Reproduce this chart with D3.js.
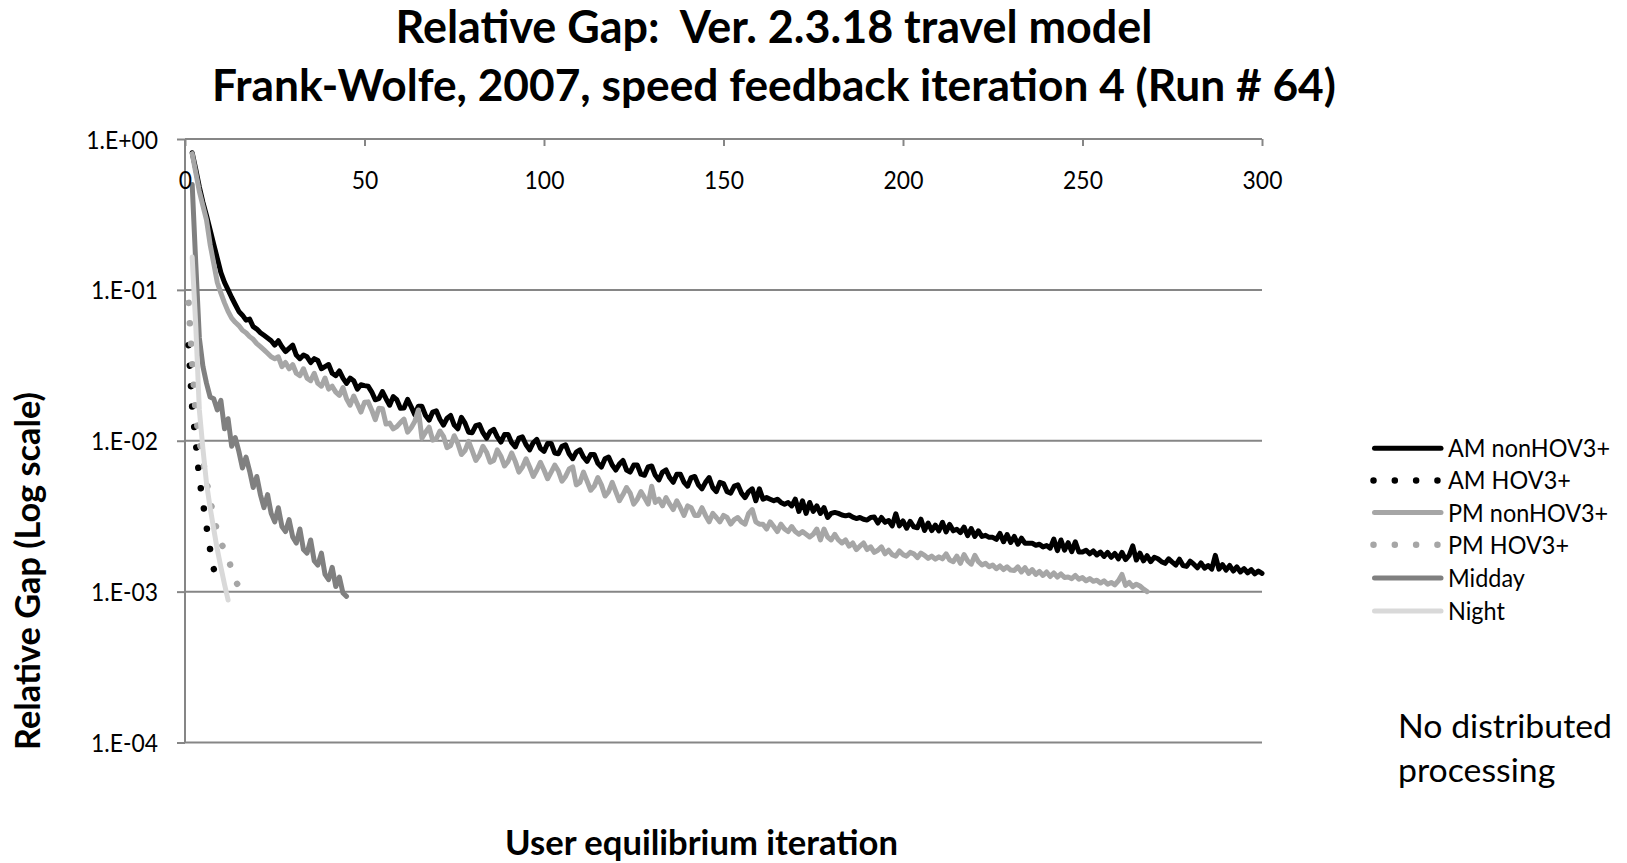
<!DOCTYPE html>
<html><head><meta charset="utf-8">
<script src="https://cdn.jsdelivr.net/npm/d3@7"></script>
<style>body{margin:0;background:#fff} svg{display:block}</style>
</head><body>
<svg id="c" width="1627" height="863"></svg>
<script>
// ---------------- DATA ----------------
const seriesNames = ["AM nonHOV3+","AM HOV3+","PM nonHOV3+","PM HOV3+","Midday","Night"];
const seriesStart = [2,1,2,1,2,2]; // first UE iteration of each series
const amNonHov = [
0.81,0.63,0.48,0.38,0.31,0.25,0.20,0.162,0.130,
0.112,0.100,0.089,0.080,0.072,0.068,0.063,0.064,0.057,0.055,
0.052,0.050,0.048,0.046,0.043,0.046,0.042,0.039,0.041,0.043,
0.037,0.035,0.037,0.036,0.033,0.035,0.034,0.030,0.031,0.032,
0.028,0.027,0.029,0.026,0.024,0.026,0.025,0.022,0.0235,0.0232,
0.0230,0.0211,0.0187,0.0190,0.0212,0.0190,0.0172,0.0196,0.0187,0.0164,
0.0165,0.0188,0.0168,0.0149,0.0169,0.0169,0.0147,0.0137,0.0155,0.0158,
0.0139,0.0127,0.0141,0.0147,0.0127,0.0120,0.0143,0.0131,0.0114,0.0113,
0.0126,0.0128,0.0113,0.0104,0.0115,0.0119,0.0106,0.0098,0.0110,0.0110,
0.0097,0.0091,0.0104,0.0106,0.0094,0.0087,0.0097,0.0102,0.0089,0.0085,
0.0096,0.0096,0.0083,0.0082,0.0092,0.0094,0.0082,0.0076,0.0084,0.0087,
0.0078,0.0073,0.0081,0.0081,0.0071,0.0067,0.0076,0.0078,0.0069,0.0064,
0.0070,0.0074,0.0064,0.0062,0.0069,0.0069,0.0060,0.0059,0.0067,0.0068,
0.0059,0.0055,0.0062,0.0064,0.0057,0.0053,0.0060,0.0060,0.0053,0.0050,
0.0057,0.0058,0.0051,0.0048,0.0053,0.0057,0.0049,0.0046,0.0053,0.0052,
0.0046,0.0045,0.0050,0.0051,0.0045,0.0042,0.0046,0.0048,0.0040,0.0048,
0.0041,0.0042,0.0041,0.0040,0.0041,0.0039,0.0038,0.0039,0.0037,0.0041,
0.0034,0.0040,0.0033,0.0039,0.0034,0.0037,0.0033,0.0036,0.0031,0.0033,
0.00335,0.0033,0.00322,0.00318,0.00322,0.00312,0.00305,0.0031,0.00302,0.00298,
0.0031,0.00312,0.00285,0.0031,0.00288,0.00296,0.00273,0.00328,0.00273,0.00294,
0.00263,0.00292,0.00269,0.00265,0.00302,0.00254,0.00285,0.00254,0.00276,0.00253,
0.00288,0.00249,0.00279,0.00253,0.00259,0.00246,0.00268,0.00235,0.00262,0.00232,
0.00253,0.00232,0.00236,0.00229,0.00229,0.00222,0.00243,0.00214,0.00239,0.00212,
0.00232,0.00206,0.00226,0.00209,0.00209,0.00209,0.00203,0.00206,0.00198,0.00202,
0.00194,0.00223,0.00187,0.0022,0.00188,0.00211,0.00184,0.00214,0.00183,0.00183,
0.00188,0.00178,0.00186,0.00175,0.00183,0.00171,0.00182,0.00169,0.00179,0.00165,
0.00182,0.00163,0.00174,0.00201,0.00162,0.0018,0.0016,0.00173,0.00158,0.00169,
0.00165,0.00158,0.00154,0.00165,0.00157,0.0015,0.00164,0.00149,0.00147,0.00159,
0.00152,0.00144,0.00155,0.00143,0.00149,0.00141,0.00174,0.00141,0.00151,0.00139,
0.00149,0.00137,0.00146,0.00135,0.00142,0.00133,0.0014,0.00131,0.00137,0.00132
];
const amHov = [0.043,0.0165,0.0098,0.0056,0.0039,0.0027,0.0019,0.00142,0.00108];
const pmNonHov = [
0.80,0.60,0.45,0.36,0.29,0.20,0.15,0.112,0.095,
0.082,0.072,0.065,0.061,0.058,0.054,0.052,0.049,0.047,0.044,
0.042,0.040,0.038,0.036,0.035,0.036,0.031,0.033,0.030,0.032,
0.028,0.027,0.030,0.026,0.025,0.028,0.024,0.023,0.026,0.022,
0.023,0.021,0.0200,0.0225,0.019,0.0172,0.0198,0.0175,0.0155,0.0180,
0.0181,0.0160,0.0138,0.0164,0.0163,0.0129,0.0131,0.0120,0.0124,0.0132,
0.0139,0.0114,0.0122,0.0134,0.0160,0.0104,0.0114,0.0123,0.0101,0.0103,
0.0116,0.0107,0.0090,0.0093,0.0108,0.0096,0.0081,0.0086,0.0099,0.0086,
0.0074,0.0080,0.0092,0.0084,0.0072,0.0074,0.0087,0.0079,0.0068,0.0073,
0.0083,0.0073,0.0062,0.0067,0.0076,0.0067,0.0058,0.0064,0.0072,0.0064,
0.0056,0.0062,0.0069,0.0063,0.0054,0.0058,0.0065,0.0067,0.0051,0.0053,
0.0062,0.0054,0.0047,0.0050,0.0057,0.0051,0.0043,0.0046,0.0053,0.0046,
0.0040,0.0044,0.0049,0.0045,0.0038,0.0041,0.0046,0.0042,0.0038,0.0050,
0.0039,0.0041,0.0037,0.0042,0.0038,0.0035,0.0040,0.0036,0.0032,0.0037,
0.0036,0.0032,0.0032,0.0036,0.0032,0.0029,0.0033,0.0031,0.0029,0.0032,
0.0031,0.0028,0.0030,0.0031,0.0029,0.0028,0.0033,0.0035,0.0029,0.0028,
0.0028,0.0026,0.0029,0.0027,0.0025,0.0028,0.0026,0.0025,0.0027,0.0025,
0.0024,0.0025,0.0024,0.0023,0.0024,0.0026,0.0022,0.0026,0.0023,0.0022,
0.0024,0.0022,0.0021,0.0022,0.0020,0.0021,0.0019,0.0020,0.0021,0.0019,
0.00198,0.00182,0.00188,0.00198,0.00178,0.00188,0.00176,0.00172,0.00186,0.00176,
0.00172,0.00182,0.00178,0.00168,0.00180,0.00174,0.00166,0.00172,0.00164,0.00170,
0.00165,0.00178,0.00162,0.00158,0.00172,0.00154,0.00176,0.00160,0.00152,0.00174,
0.00158,0.00150,0.00154,0.00146,0.00150,0.00142,0.00148,0.00140,0.00146,0.00139,
0.00138,0.00146,0.00135,0.00144,0.00132,0.00140,0.00130,0.00136,0.00128,0.00135,
0.00126,0.00133,0.00125,0.00131,0.00124,0.00125,0.00122,0.00128,0.00121,0.00124,
0.00118,0.00122,0.00117,0.00119,0.00114,0.00118,0.00112,0.00115,0.00111,0.00118,
0.00130,0.00110,0.00115,0.00108,0.00112,0.00109,0.00104,0.00100
];
const pmHov = [0.082,0.033,0.015,0.0100,0.0074,0.0054,0.0041,0.0031,0.0025,0.0021,0.0019,0.0017,0.00138,0.00118,0.00108,0.00101,0.00096];
const midday = [
0.50,0.15,0.048,0.031,0.024,0.0195,
0.0190,0.0160,0.0185,0.0120,0.0140,0.0092,0.0105,0.0085,0.0066,0.0078,
0.0063,0.0049,0.0058,0.0044,0.0036,0.0044,0.0033,0.0029,0.0036,0.0027,
0.0025,0.0030,0.0023,0.0021,0.0026,0.0019,0.0018,0.0022,0.0016,0.0015,
0.0018,0.0013,0.0012,0.00145,0.00108,0.00125,0.00098,0.00093
];
const night = [0.165,0.058,0.016,0.0088,0.0052,0.0036,0.0026,0.0019,0.00145,0.00112,0.00088];
const seriesValues = [amNonHov, amHov, pmNonHov, pmHov, midday, night];

const xTicks = [0,50,100,150,200,250,300];
const yTicks = [1,0.1,0.01,0.001,0.0001];
const yTickLabels = ["1.E+00","1.E-01","1.E-02","1.E-03","1.E-04"];
const titleLines = ["Relative Gap:  Ver. 2.3.18 travel model","Frank-Wolfe, 2007, speed feedback iteration 4 (Run # 64)"];
const xTitle = "User equilibrium iteration";
const yTitle = "Relative Gap (Log scale)";
const noteLines = ["No distributed","processing"];

// ---------------- STYLE ----------------
const seriesColor = ["#000000","#000000","#a6a6a6","#a6a6a6","#808080","#d9d9d9"];
const seriesDotted = [false,true,false,true,false,false];
const FONT = "Lato, 'Open Sans', sans-serif";
const GRID = "#868686";

const svg = d3.select("#c");
const x = d3.scaleLinear().domain([0,300]).range([185,1262]);
const y = d3.scaleLog().domain([1e-4,1]).range([742.5,139]);

function natWidth(txt, weight, size){
  const t = svg.append("text").attr("font-family",FONT).attr("font-weight",weight)
    .attr("font-size",size).style("white-space","pre").text(txt);
  const w = t.node().getComputedTextLength();
  t.remove();
  return w;
}
function fitSize(txt, weight, target){ return 100*target/natWidth(txt,weight,100); }
// squeeze text horizontally by a factor (Calibri-like proportions)
function squeeze(sel, weight, size, factor){
  sel.each(function(){
    const w = natWidth(this.textContent, weight, size);
    d3.select(this).attr("textLength", w*factor).attr("lengthAdjust","spacingAndGlyphs");
  });
}

// gridlines
svg.append("g").selectAll("line").data(yTicks).join("line")
  .attr("x1",x(0)).attr("x2",x(300)).attr("y1",d=>y(d)).attr("y2",d=>y(d))
  .attr("stroke",GRID).attr("stroke-width",2);

const tickFs = 25;
const tickSq = 71.7 / natWidth("1.E+00",400,tickFs);

// y axis
const gy = svg.append("g").attr("transform",`translate(${x(0)},0)`)
  .call(d3.axisLeft(y).tickValues(yTicks).tickFormat((d,i)=>yTickLabels[i]).tickSize(8).tickPadding(19));
gy.select(".domain").remove();
gy.selectAll(".tick line").attr("stroke",GRID).attr("stroke-width",2);
gy.selectAll(".tick text").attr("font-family",FONT).attr("font-size",tickFs).attr("fill","#000").attr("dy","0.36em")
  .call(s=>squeeze(s,400,tickFs,tickSq));
svg.append("line").attr("x1",x(0)).attr("x2",x(0)).attr("y1",y(1)).attr("y2",y(1e-4))
  .attr("stroke",GRID).attr("stroke-width",2);

// x axis (crosses at 1.E+00, labels below)
const gx = svg.append("g").attr("transform",`translate(0,${y(1)})`)
  .call(d3.axisBottom(x).tickValues(xTicks).tickSize(7));
gx.select(".domain").remove();
gx.selectAll(".tick line").attr("stroke",GRID).attr("stroke-width",2);

// series
const line = d3.line().x(d=>x(d.i)).y(d=>y(d.v));
const plot = svg.append("g");
seriesValues.forEach((vals,k)=>{
  const pts = vals.map((v,j)=>({i:seriesStart[k]+j, v}));
  const p = plot.append("path").datum(pts).attr("d",line)
    .attr("fill","none").attr("stroke",seriesColor[k])
    .attr("stroke-linejoin","round").attr("stroke-linecap","round");
  if(seriesDotted[k]) p.attr("stroke-width",6.5).attr("stroke-dasharray","0.01,20.5");
  else p.attr("stroke-width",5);
});

gx.raise();
gx.selectAll(".tick text").attr("font-family",FONT).attr("font-size",tickFs).attr("fill","#000")
  .attr("y",50).attr("dy",0).call(s=>squeeze(s,400,tickFs,tickSq));

// titles
titleLines.forEach((t,i)=>{
  const target = i===0 ? 757 : 1124;
  const fs = fitSize(t,700,target);
  svg.append("text").attr("x",774).attr("y",i===0?42.5:100.5).attr("text-anchor","middle")
    .attr("font-family",FONT).attr("font-weight",700).attr("font-size",fs)
    .style("white-space","pre").text(t);
});
svg.append("text").attr("x",701.5).attr("y",855).attr("text-anchor","middle")
  .attr("font-family",FONT).attr("font-weight",700).attr("font-size",fitSize(xTitle,700,393)).text(xTitle);
svg.append("text").attr("transform","translate(40,571) rotate(-90)").attr("text-anchor","middle")
  .attr("font-family",FONT).attr("font-weight",700).attr("font-size",fitSize(yTitle,700,358)).text(yTitle);

// legend
const legFs = 25;
const legSq = 162 / natWidth("AM nonHOV3+",400,legFs);
const legRows = [448.2,480.4,512.6,544.7,577.9,611.1];
const lg = svg.append("g");
seriesNames.forEach((nm,k)=>{
  const yy = legRows[k];
  const l = lg.append("line").attr("y1",yy).attr("y2",yy).attr("stroke",seriesColor[k]).attr("stroke-linecap","round");
  if(seriesDotted[k]) l.attr("x1",1373.5).attr("x2",1437.5).attr("stroke-width",6.5).attr("stroke-dasharray","0.01,21.3");
  else l.attr("x1",1374.5).attr("x2",1441).attr("stroke-width",5);
  lg.append("text").attr("x",1448).attr("y",yy).attr("dy","0.36em")
    .attr("font-family",FONT).attr("font-size",legFs).text(nm)
    .call(s=>squeeze(s,400,legFs,legSq));
});

// note
const noteFs = 33;
const noteSq = 214 / natWidth(noteLines[0],400,noteFs);
noteLines.forEach((t,i)=>{
  svg.append("text").attr("x",1398).attr("y",738+i*44).attr("font-family",FONT).attr("font-size",noteFs).text(t)
    .call(s=>squeeze(s,400,noteFs,noteSq));
});
</script>
</body></html>
